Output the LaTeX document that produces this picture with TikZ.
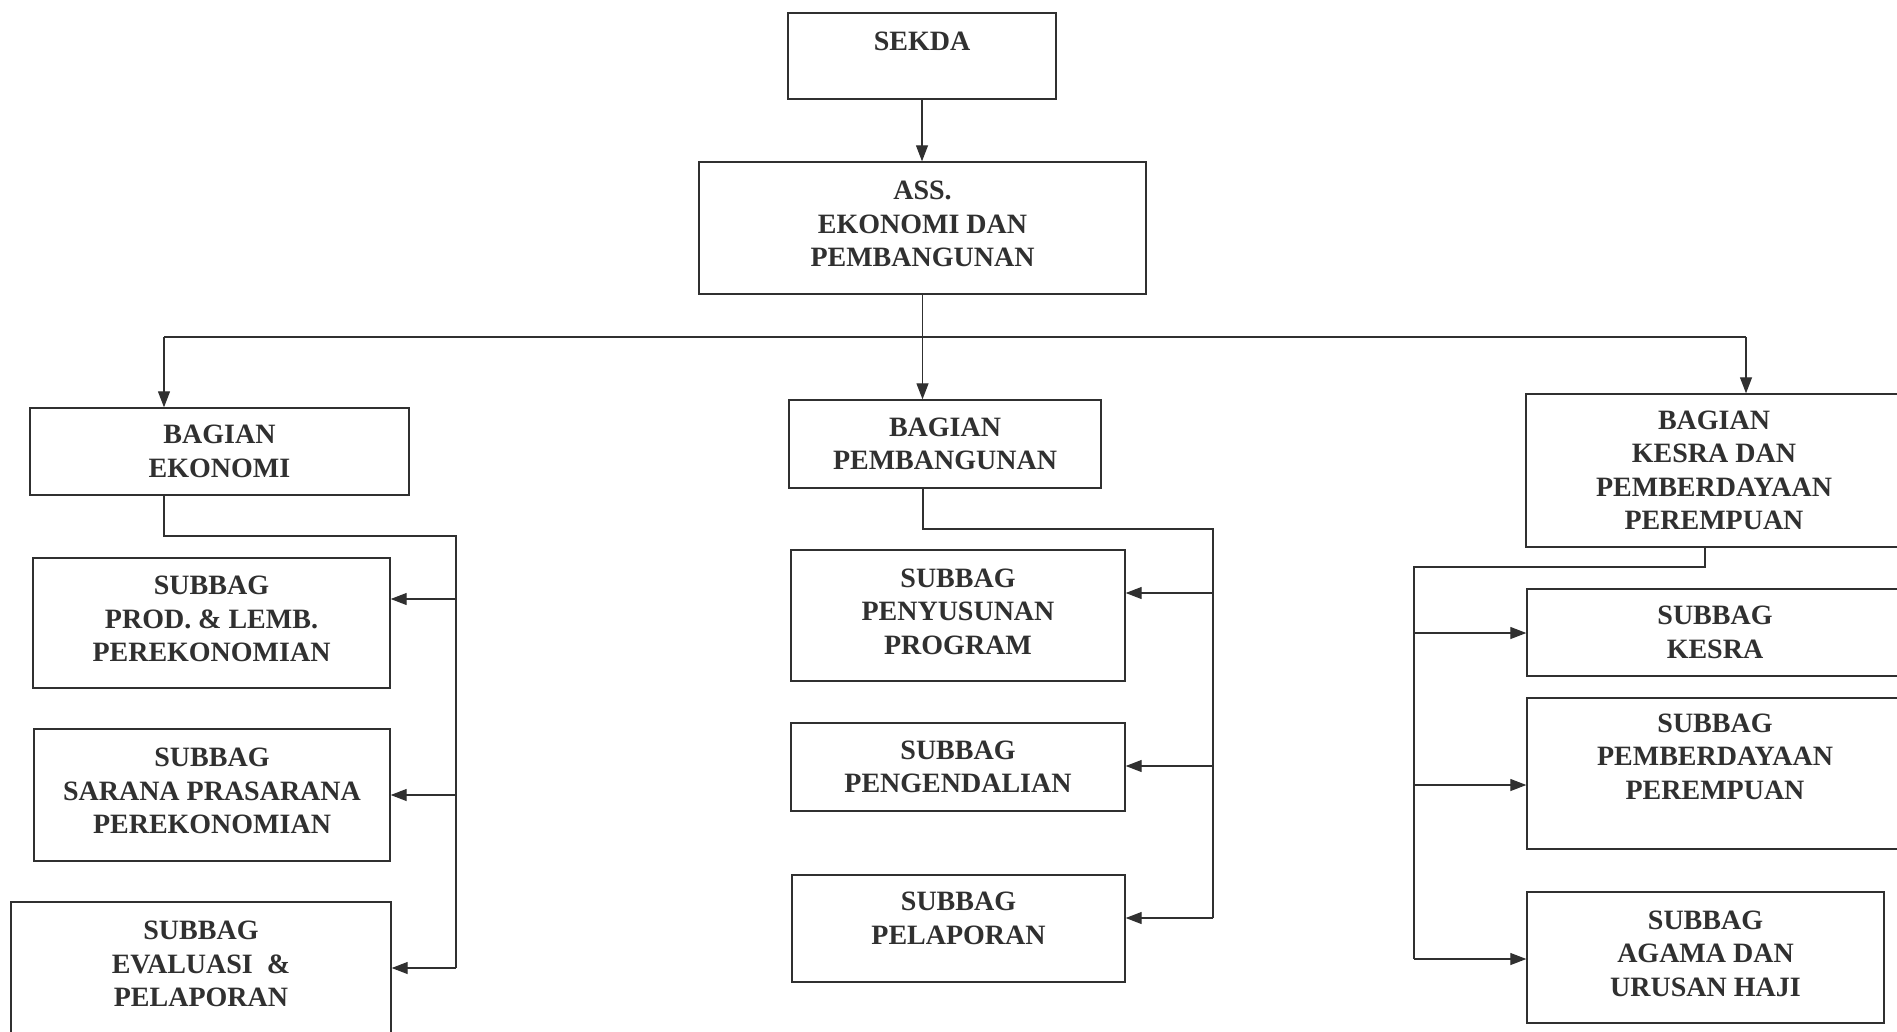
\documentclass[tikz,border=0pt]{standalone}
\usepackage{fontspec}
\setmainfont{Liberation Serif}
\usetikzlibrary{arrows.meta}
\definecolor{ink}{HTML}{303030}
\newcommand{\orgbox}[5]{\node[box, minimum width={(#4)-(#2)}, minimum height={(#5)-(#3)}] (#1) at ({((#2)+(#4))/2},{((#3)+(#5))/2}) {};}
\begin{document}
\begin{tikzpicture}[x=1pt,y=-1pt,
  box/.style={draw=ink, line width=1.4pt, rectangle, inner sep=0pt},
  lbl/.style={text=ink, font=\bfseries\fontsize{28}{33.5}\selectfont, align=center, inner sep=0pt},
  link/.style={draw=ink, line width=1.2pt},
  arr/.style={link, -{Triangle[length=16pt,width=12pt]}}]
\useasboundingbox (0,0) rectangle (1897,1031);
\clip (0,0) rectangle (1897,1031);
\fill[white] (0,0) rectangle (1897,1031);

% boxes
\orgbox{sekda}{788}{13}{1056}{99}
\orgbox{ass}{699}{162}{1146}{294}
\orgbox{beko}{30}{408}{409}{495}
\orgbox{bpem}{789}{400}{1101}{488}
\orgbox{bkes}{1526}{394}{1902}{547}
\orgbox{s1}{33}{558}{390}{688}
\orgbox{s2}{34}{729}{390}{861}
\orgbox{s3}{11}{902}{391}{1035}
\orgbox{p1}{791}{550}{1125}{681}
\orgbox{p2}{791}{723}{1125}{811}
\orgbox{p3}{792}{875}{1125}{982}
\orgbox{k1}{1527}{589}{1903}{676}
\orgbox{k2}{1527}{698}{1903}{849}
\orgbox{k3}{1527}{892}{1884}{1023}

% texts
\node[lbl] (t-sekda) at ([yshift=15pt]sekda.center) {SEKDA};
\node[lbl] (t-ass) at ([yshift=4pt]ass.center) {ASS.\\EKONOMI DAN\\PEMBANGUNAN};
\node[lbl] (t-beko) at (beko.center) {BAGIAN\\EKONOMI};
\node[lbl] (t-bpem) at (bpem.center) {BAGIAN\\PEMBANGUNAN};
\node[lbl] (t-bkes) at (bkes.center) {BAGIAN\\KESRA DAN\\PEMBERDAYAAN\\PEREMPUAN};
\node[lbl] (t-s1) at ([yshift=4pt]s1.center) {SUBBAG\\PROD. \& LEMB.\\PEREKONOMIAN};
\node[lbl] (t-s2) at ([yshift=4pt]s2.center) {SUBBAG\\SARANA PRASARANA\\PEREKONOMIAN};
\node[lbl] (t-s3) at (201,964) {SUBBAG\\EVALUASI \ \&\\PELAPORAN};
\node[lbl] (t-p1) at ([yshift=4pt]p1.center) {SUBBAG\\PENYUSUNAN\\PROGRAM};
\node[lbl] (t-p2) at (p2.center) {SUBBAG\\PENGENDALIAN};
\node[lbl] (t-p3) at ([yshift=10pt]p3.center) {SUBBAG\\PELAPORAN};
\node[lbl] (t-k1) at (k1.center) {SUBBAG\\KESRA};
\node[lbl] (t-k2) at ([yshift=17pt]k2.center) {SUBBAG\\PEMBERDAYAAN\\PEREMPUAN};
\node[lbl] (t-k3) at ([yshift=4pt]k3.center) {SUBBAG\\AGAMA DAN\\URUSAN HAJI};

% top connectors
\draw[arr] (sekda.south) -- (sekda.south |- ass.north);
\coordinate (dl) at (164,337);
\coordinate (dr) at (1746,337);
\draw[arr] (ass.south) -- (ass.south |- bpem.north);
\draw[link] (dl) -- (dr);
\draw[arr] (dl) -- (dl |- beko.north);
\draw[arr] (dr) -- (dr |- bkes.north);

% left tree
\coordinate (lt) at (164,536);
\coordinate (lv) at (456,536);
\coordinate (ls1) at (456,599);
\coordinate (ls2) at (456,795);
\coordinate (ls3) at (456,968);
\draw[link] (beko.south -| lt) -- (lt) -- (lv) -- (ls3);
\draw[arr] (ls1) -- (ls1 -| s1.east);
\draw[arr] (ls2) -- (ls2 -| s2.east);
\draw[arr] (ls3) -- (ls3 -| s3.east);

% middle tree
\coordinate (mt) at (923,529);
\coordinate (mv) at (1213,529);
\coordinate (ms1) at (1213,593);
\coordinate (ms2) at (1213,766);
\coordinate (ms3) at (1213,918);
\draw[link] (bpem.south -| mt) -- (mt) -- (mv) -- (ms3);
\draw[arr] (ms1) -- (ms1 -| p1.east);
\draw[arr] (ms2) -- (ms2 -| p2.east);
\draw[arr] (ms3) -- (ms3 -| p3.east);

% right tree
\coordinate (rt) at (1705,567);
\coordinate (rv) at (1414,567);
\coordinate (rs1) at (1414,633);
\coordinate (rs2) at (1414,785);
\coordinate (rs3) at (1414,959);
\draw[link] (bkes.south -| rt) -- (rt) -- (rv) -- (rs3);
\draw[arr] (rs1) -- (rs1 -| k1.west);
\draw[arr] (rs2) -- (rs2 -| k2.west);
\draw[arr] (rs3) -- (rs3 -| k3.west);
\end{tikzpicture}
\end{document}
